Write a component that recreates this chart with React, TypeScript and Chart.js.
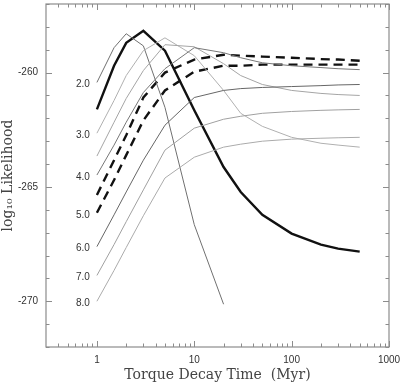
import React, { useEffect, useRef } from "react";
import { Chart, registerables } from "chart.js";

Chart.register(...registerables);

// Torque decay time (Myr)
const xFull = [1, 1.5, 2, 3, 5, 10, 20, 30, 50, 100, 200, 300, 500];
const xShort = [1, 1.5, 2, 3, 5, 10, 20];

// log10 likelihood curves
const s20 = [-260.43, -258.91, -258.3, -258.83, -261.52, -266.65, -270.13];
const sThick = [-261.61, -259.7, -258.7, -258.17, -259.04, -261.65, -264.13, -265.22, -266.22, -267.04, -267.52, -267.7, -267.83];
const s30 = [-262.65, -261.22, -260.13, -259.04, -258.48, -259.26, -260.78, -261.78, -262.35, -262.83, -263.09, -263.17, -263.26];
const s35 = [-263.65, -262.17, -261.13, -259.91, -258.78, -258.87, -259.61, -260.13, -260.52, -260.78, -260.91, -260.96, -261.0];
const s40 = [-264.48, -263.17, -262.17, -260.87, -259.83, -258.91, -259.13, -259.35, -259.57, -259.7, -259.78, -259.83, -259.87];
const s45 = [-265.35, -263.83, -262.74, -261.09, -260.0, -259.43, -259.22, -259.26, -259.3, -259.35, -259.41, -259.43, -259.48];
const s50 = [-266.13, -264.7, -263.61, -262.09, -260.78, -259.96, -259.7, -259.7, -259.65, -259.65, -259.65, -259.65, -259.65];
const s60 = [-267.61, -266.22, -265.22, -263.83, -262.3, -261.09, -260.78, -260.7, -260.65, -260.61, -260.57, -260.54, -260.52];
const s70 = [-268.87, -267.52, -266.52, -265.13, -263.39, -262.43, -262.04, -261.91, -261.78, -261.7, -261.65, -261.63, -261.61];
const s80 = [-270.0, -268.65, -267.65, -266.26, -264.61, -263.7, -263.26, -263.13, -263.0, -262.91, -262.87, -262.85, -262.83];

const curveLabels = ["2.0", "3.0", "4.0", "5.0", "6.0", "7.0", "8.0"];
const labeledSeries = [s20, s30, s40, s50, s60, s70, s80];

const xTickValues = [1, 10, 100, 1000];
const yTickValues = [-270, -265, -260];
const X_MIN = Math.pow(10, -0.5);
const X_MAX = 1000;
const Y_MIN = -272;
const Y_MAX = -257;

const pts = (xs: number[], ys: number[]) => ys.map((y, i) => ({ x: xs[i], y }));

export default function App() {
  const ref = useRef<HTMLCanvasElement>(null);

  useEffect(() => {
    document.body.style.margin = "0";
    const canvas = ref.current!;

    const framePlugin = {
      id: "frameTicks",
      afterDraw(chart: any) {
        const { ctx, chartArea: a, scales } = chart;
        const xs = scales.x;
        const ys = scales.y;
        ctx.save();
        ctx.strokeStyle = "#8c8c8c";
        ctx.lineWidth = 1.2;
        ctx.strokeRect(a.left, a.top, a.right - a.left, a.bottom - a.top);
        ctx.lineWidth = 1;
        ctx.beginPath();
        for (let d = -1; d <= 3; d++) {
          for (let m = 1; m <= 9; m++) {
            const v = m * Math.pow(10, d);
            if (v < X_MIN * 0.999 || v > X_MAX * 1.001) continue;
            const px = Math.round(xs.getPixelForValue(v)) + 0.5;
            const len = m === 1 ? 6 : 3.5;
            ctx.moveTo(px, a.bottom);
            ctx.lineTo(px, a.bottom - len);
            ctx.moveTo(px, a.top);
            ctx.lineTo(px, a.top + len);
          }
        }
        for (let v = Y_MIN; v <= Y_MAX; v++) {
          const py = Math.round(ys.getPixelForValue(v)) + 0.5;
          const len = v % 5 === 0 ? 6 : 3.5;
          ctx.moveTo(a.left, py);
          ctx.lineTo(a.left + len, py);
          ctx.moveTo(a.right, py);
          ctx.lineTo(a.right - len, py);
        }
        ctx.stroke();
        ctx.restore();
      },
      afterDatasetsDraw(chart: any) {
        const { ctx, scales } = chart;
        ctx.save();
        ctx.font = "10px 'Liberation Sans'";
        ctx.fillStyle = "#333";
        ctx.textAlign = "right";
        ctx.textBaseline = "middle";
        curveLabels.forEach((lab, i) => {
          const px = scales.x.getPixelForValue(xFull[0]) - 7;
          const py = scales.y.getPixelForValue(labeledSeries[i][0]) + 2;
          ctx.fillText(lab, px, py);
        });
        ctx.restore();
      },
    };

    const thin = (data: number[], color: string, xs = xFull) => ({
      data: pts(xs, data),
      borderColor: color,
      borderWidth: 1,
      fill: false,
    });

    const chart = new Chart(canvas, {
      type: "line",
      data: {
        datasets: [
          thin(s80, "#ababab"),
          thin(s70, "#a0a0a0"),
          thin(s60, "#666666"),
          thin(s40, "#777777"),
          thin(s35, "#a5a5a5"),
          thin(s30, "#b0b0b0"),
          thin(s20, "#707070", xShort),
          { data: pts(xFull, s50), borderColor: "#111", borderWidth: 2.4, borderDash: [9, 6], fill: false },
          { data: pts(xFull, s45), borderColor: "#111", borderWidth: 2.4, borderDash: [9, 6], fill: false },
          { data: pts(xFull, sThick), borderColor: "#111", borderWidth: 2.4, fill: false },
        ] as any,
      },
      options: {
        animation: false,
        responsive: false,
        maintainAspectRatio: false,
        layout: { padding: { top: 4, right: 11, left: 0, bottom: 0 } },
        plugins: { legend: { display: false }, tooltip: { enabled: false } },
        elements: { point: { radius: 0 }, line: { tension: 0 } },
        scales: {
          x: {
            type: "logarithmic",
            min: X_MIN,
            max: X_MAX,
            afterBuildTicks: (s: any) => {
              s.ticks = xTickValues.map((v) => ({ value: v }));
            },
            afterFit: (s: any) => {
              s.height = 38;
              s.paddingLeft = 0;
              s.paddingRight = 0;
              s.paddingTop = 0;
              s.paddingBottom = 0;
            },
            grid: { display: false, drawTicks: false },
            border: { display: false },
            ticks: {
              callback: (v: any) => String(v),
              font: { family: "'Liberation Sans'", size: 10 },
              color: "#333",
              padding: 7,
              maxRotation: 0,
              autoSkip: false,
            },
            title: {
              display: true,
              text: "Torque Decay Time  (Myr)",
              font: { family: "'DejaVu Serif'", size: 14 },
              color: "#444",
              padding: { top: 0, bottom: 1 },
            },
          },
          y: {
            type: "linear",
            min: Y_MIN,
            max: Y_MAX,
            afterBuildTicks: (s: any) => {
              s.ticks = yTickValues.map((v) => ({ value: v }));
            },
            afterFit: (s: any) => {
              s.width = 46;
              s.paddingLeft = 0;
              s.paddingRight = 0;
              s.paddingTop = 0;
              s.paddingBottom = 0;
            },
            grid: { display: false, drawTicks: false },
            border: { display: false },
            ticks: {
              callback: (v: any) => String(v),
              font: { family: "'Liberation Sans'", size: 10 },
              color: "#333",
              padding: 8,
            },
            title: {
              display: true,
              text: "log₁₀ Likelihood",
              font: { family: "'DejaVu Serif'", size: 14 },
              color: "#444",
              padding: { top: 0, bottom: 0 },
            },
          },
        },
      } as any,
      plugins: [framePlugin],
    });

    return () => chart.destroy();
  }, []);

  return (
    <div style={{ width: 400, height: 385, position: "relative" }}>
      <canvas ref={ref} width={400} height={385} style={{ width: 400, height: 385, display: "block" }} />
    </div>
  );
}
